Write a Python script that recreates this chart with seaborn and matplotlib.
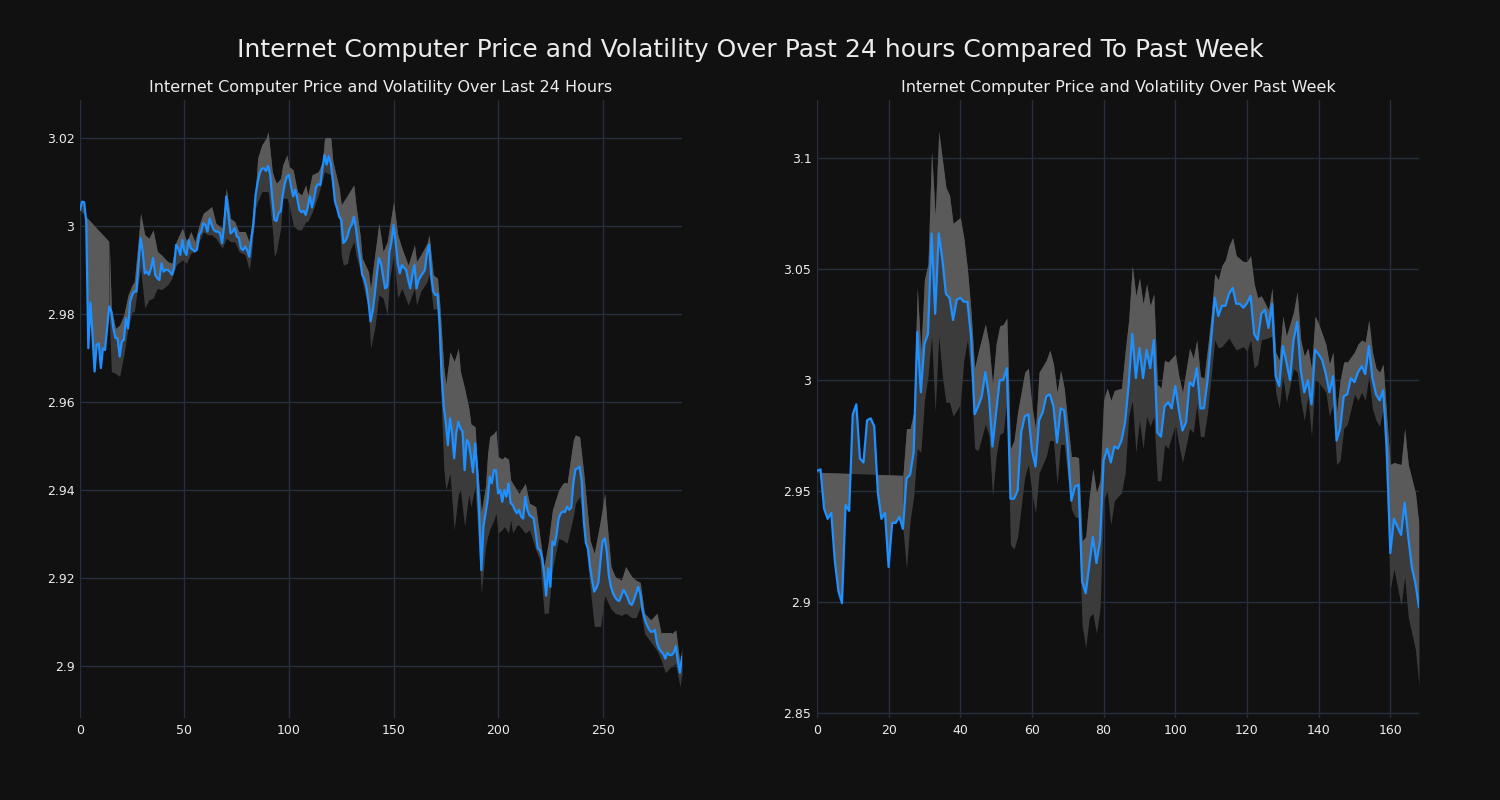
"""
Internet Computer price & volatility: last 24 hours vs past week.
Two panels, price line over a shaded volatility band.
"""

import matplotlib
matplotlib.use("Agg")

import matplotlib.pyplot as plt
import numpy as np
import seaborn as sns
from matplotlib.patches import Polygon
from matplotlib.ticker import FuncFormatter, MultipleLocator

# ── Data: last 24 hours (5-minute steps) ─────────────────────────────

PRICE_24H = [
    3.0036, 3.0055, 3.0054, 3.0010, 2.9722, 2.9826, 2.9752, 2.9669, 2.9730, 2.9733,
    2.9677, 2.9722, 2.9718, 2.9767, 2.9817, 2.9805, 2.9767, 2.9745, 2.9745, 2.9703,
    2.9737, 2.9741, 2.9790, 2.9767, 2.9828, 2.9843, 2.9851, 2.9851, 2.9911, 2.9972,
    2.9942, 2.9892, 2.9896, 2.9889, 2.9904, 2.9927, 2.9889, 2.9881, 2.9877, 2.9915,
    2.9896, 2.9900, 2.9900, 2.9896, 2.9889, 2.9904, 2.9957, 2.9949, 2.9934, 2.9968,
    2.9942, 2.9934, 2.9968, 2.9949, 2.9946, 2.9942, 2.9946, 2.9980, 2.9987, 3.0006,
    3.0002, 2.9987, 3.0017, 3.0002, 2.9991, 2.9987, 2.9987, 2.9983, 2.9961, 3.0002,
    3.0067, 3.0025, 2.9983, 2.9987, 2.9995, 2.9976, 2.9973, 2.9949, 2.9945, 2.9953,
    2.9945, 2.9930, 2.9972, 3.0006, 3.0070, 3.0099, 3.0120, 3.0130, 3.0131, 3.0125,
    3.0136, 3.0116, 3.0063, 3.0014, 3.0011, 3.0029, 3.0033, 3.0070, 3.0097, 3.0112,
    3.0116, 3.0089, 3.0067, 3.0082, 3.0061, 3.0036, 3.0031, 3.0034, 3.0025, 3.0044,
    3.0067, 3.0042, 3.0063, 3.0089, 3.0095, 3.0093, 3.0131, 3.0161, 3.0139, 3.0158,
    3.0142, 3.0101, 3.0055, 3.0040, 3.0021, 3.0014, 2.9961, 2.9966, 2.9976, 2.9995,
    3.0002, 3.0021, 2.9995, 2.9957, 2.9927, 2.9889, 2.9880, 2.9862, 2.9828, 2.9783,
    2.9805, 2.9843, 2.9889, 2.9927, 2.9915, 2.9885, 2.9858, 2.9862, 2.9940, 2.9964,
    3.0002, 2.9964, 2.9915, 2.9892, 2.9911, 2.9905, 2.9900, 2.9877, 2.9858, 2.9889,
    2.9911, 2.9858, 2.9877, 2.9885, 2.9892, 2.9900, 2.9938, 2.9957, 2.9889, 2.9851,
    2.9843, 2.9845, 2.9780, 2.9660, 2.9590, 2.9552, 2.9502, 2.9563, 2.9529, 2.9472,
    2.9529, 2.9555, 2.9540, 2.9533, 2.9445, 2.9514, 2.9506, 2.9476, 2.9440, 2.9506,
    2.9445, 2.9340, 2.9218, 2.9317, 2.9347, 2.9377, 2.9430, 2.9415, 2.9445, 2.9445,
    2.9392, 2.9400, 2.9373, 2.9400, 2.9385, 2.9415, 2.9370, 2.9366, 2.9355, 2.9347,
    2.9355, 2.9340, 2.9335, 2.9385, 2.9355, 2.9343, 2.9339, 2.9335, 2.9302, 2.9267,
    2.9264, 2.9248, 2.9211, 2.9160, 2.9222, 2.9180, 2.9283, 2.9275, 2.9300, 2.9336,
    2.9347, 2.9351, 2.9350, 2.9362, 2.9355, 2.9360, 2.9415, 2.9447, 2.9449, 2.9453,
    2.9420, 2.9330, 2.9280, 2.9267, 2.9225, 2.9195, 2.9169, 2.9177, 2.9190, 2.9241,
    2.9283, 2.9290, 2.9260, 2.9205, 2.9180, 2.9165, 2.9156, 2.9150, 2.9148, 2.9160,
    2.9173, 2.9165, 2.9155, 2.9142, 2.9139, 2.9150, 2.9165, 2.9180, 2.9165, 2.9130,
    2.9110, 2.9095, 2.9085, 2.9078, 2.9078, 2.9082, 2.9052, 2.9040, 2.9033, 2.9028,
    2.9017, 2.9030, 2.9025, 2.9025, 2.9030, 2.9045, 2.9010, 2.8985, 2.9021,
]

BAND_24H_X = [
    14, 15, 17, 19, 21, 23, 25, 26, 28, 29, 31, 33, 35, 37, 39, 42, 44, 46, 49, 51,
    53, 55, 57, 59, 61, 63, 65, 68, 70, 72, 74, 76, 79, 81, 82, 84, 85, 87, 89, 90,
    92, 93, 94, 96, 97, 99, 100, 102, 104, 106, 108, 109, 111, 114, 116, 117, 120, 121, 124, 125,
    126, 128, 129, 131, 132, 134, 135, 138, 139, 141, 143, 145, 147, 148, 150, 152, 154, 157, 160, 161,
    163, 166, 167, 169, 171, 172, 174, 175, 177, 179, 181, 182, 184, 186, 187, 189, 190, 192, 194, 195,
    196, 198, 199, 200, 202, 203, 205, 206, 207, 209, 210, 213, 215, 218, 220, 222, 224, 226, 229, 231,
    233, 236, 237, 239, 241, 244, 246, 249, 251, 252, 254, 256, 259, 261, 264, 266, 268, 270, 273, 276,
    278, 280, 283, 285, 287, 288,
]
BAND_24H_HI = [
    2.9964, 2.9813, 2.9767, 2.9775, 2.9798, 2.9843, 2.9866, 2.9873, 2.9972, 3.0029,
    2.9980, 2.9972, 2.9991, 2.9942, 2.9934, 2.9919, 2.9915, 2.9964, 2.9995, 2.9964,
    2.9987, 2.9964, 3.0002, 3.0029, 3.0036, 3.0044, 3.0006, 2.9995, 3.0086, 3.0017,
    3.0010, 2.9987, 2.9987, 2.9964, 2.9998, 3.0085, 3.0154, 3.0184, 3.0199, 3.0214,
    3.0123, 3.0108, 3.0097, 3.0108, 3.0139, 3.0161, 3.0135, 3.0127, 3.0078, 3.0070,
    3.0093, 3.0070, 3.0116, 3.0123, 3.0146, 3.0199, 3.0199, 3.0146, 3.0086, 3.0048,
    3.0055, 3.0070, 3.0078, 3.0093, 3.0048, 2.9980, 2.9927, 2.9896, 2.9858, 2.9934,
    3.0006, 2.9942, 2.9964, 2.9995, 3.0055, 2.9980, 2.9949, 2.9911, 2.9957, 2.9919,
    2.9934, 2.9960, 2.9980, 2.9889, 2.9881, 2.9830, 2.9680, 2.9640, 2.9714, 2.9692,
    2.9722, 2.9669, 2.9631, 2.9586, 2.9550, 2.9544, 2.9460, 2.9350, 2.9410, 2.9483,
    2.9521, 2.9529, 2.9536, 2.9476, 2.9470, 2.9476, 2.9470, 2.9423, 2.9415, 2.9400,
    2.9392, 2.9415, 2.9370, 2.9362, 2.9294, 2.9226, 2.9280, 2.9355, 2.9400, 2.9415,
    2.9415, 2.9514, 2.9525, 2.9521, 2.9438, 2.9286, 2.9256, 2.9332, 2.9392, 2.9332,
    2.9226, 2.9203, 2.9195, 2.9226, 2.9203, 2.9195, 2.9190, 2.9120, 2.9105, 2.9120,
    2.9074, 2.9074, 2.9074, 2.9082, 2.9006, 2.9044,
]
BAND_24H_LO = [
    2.9800, 2.9669, 2.9665, 2.9658, 2.9707, 2.9767, 2.9805, 2.9805, 2.9873, 2.9904,
    2.9813, 2.9832, 2.9836, 2.9858, 2.9855, 2.9866, 2.9881, 2.9911, 2.9923, 2.9915,
    2.9938, 2.9942, 2.9964, 2.9987, 2.9980, 2.9980, 2.9972, 2.9949, 2.9972, 2.9964,
    2.9964, 2.9942, 2.9934, 2.9900, 2.9934, 3.0040, 3.0055, 3.0078, 3.0078, 3.0078,
    2.9995, 2.9930, 2.9942, 2.9995, 3.0063, 3.0063, 3.0048, 3.0002, 2.9991, 2.9991,
    3.0010, 3.0010, 3.0030, 3.0070, 3.0105, 3.0123, 3.0116, 3.0078, 3.0014, 2.9934,
    2.9911, 2.9915, 2.9942, 2.9964, 2.9934, 2.9900, 2.9873, 2.9813, 2.9722, 2.9767,
    2.9843, 2.9836, 2.9798, 2.9873, 2.9934, 2.9836, 2.9858, 2.9820, 2.9858, 2.9820,
    2.9851, 2.9873, 2.9889, 2.9810, 2.9813, 2.9700, 2.9450, 2.9400, 2.9438, 2.9309,
    2.9390, 2.9400, 2.9317, 2.9390, 2.9362, 2.9408, 2.9332, 2.9165, 2.9271, 2.9294,
    2.9310, 2.9332, 2.9347, 2.9302, 2.9310, 2.9317, 2.9302, 2.9332, 2.9302, 2.9320,
    2.9320, 2.9302, 2.9310, 2.9264, 2.9241, 2.9120, 2.9120, 2.9220, 2.9290, 2.9286,
    2.9279, 2.9340, 2.9370, 2.9385, 2.9320, 2.9180, 2.9090, 2.9090, 2.9160, 2.9150,
    2.9130, 2.9120, 2.9115, 2.9120, 2.9110, 2.9110, 2.9135, 2.9074, 2.9055, 2.9035,
    2.9014, 2.8985, 2.9000, 2.9005, 2.8953, 2.8983,
]
# the band's straight upper edge before the rolling window fills
WEDGE_24H_X = [14, 0]
WEDGE_24H_Y = [2.9964, 3.0036]

# ── Data: past week (hourly steps) ───────────────────────────────────

PRICE_7D = [
    2.9591, 2.9597, 2.9420, 2.9374, 2.9401, 2.9184, 2.9048, 2.8994, 2.9437, 2.9410,
    2.9845, 2.9890, 2.9646, 2.9628, 2.9818, 2.9827, 2.9791, 2.9492, 2.9374, 2.9401,
    2.9157, 2.9356, 2.9356, 2.9383, 2.9329, 2.9555, 2.9573, 2.9673, 3.0216, 2.9944,
    3.0162, 3.0207, 3.0660, 3.0298, 3.0660, 3.0542, 3.0388, 3.0370, 3.0270, 3.0361,
    3.0370, 3.0352, 3.0352, 3.0198, 2.9845, 2.9881, 2.9926, 3.0035, 2.9926, 2.9700,
    2.9854, 2.9999, 2.9999, 3.0053, 2.9465, 2.9465, 2.9501, 2.9763, 2.9836, 2.9845,
    2.9682, 2.9610, 2.9818, 2.9854, 2.9926, 2.9935, 2.9881, 2.9718, 2.9872, 2.9863,
    2.9691, 2.9456, 2.9519, 2.9528, 2.9093, 2.9039, 2.9166, 2.9293, 2.9175, 2.9275,
    2.9637, 2.9691, 2.9628, 2.9700, 2.9691, 2.9727, 2.9809, 2.9981, 3.0207, 3.0008,
    3.0144, 3.0008, 3.0135, 3.0053, 3.0180, 2.9763, 2.9745, 2.9881, 2.9899, 2.9872,
    2.9972, 2.9863, 2.9772, 2.9809, 2.9990, 2.9972, 3.0053, 2.9872, 2.9872, 2.9999,
    3.0180, 3.0370, 3.0288, 3.0334, 3.0334, 3.0388, 3.0415, 3.0343, 3.0343, 3.0325,
    3.0346, 3.0379, 3.0207, 3.0180, 3.0298, 3.0316, 3.0234, 3.0343, 3.0017, 2.9972,
    3.0153, 3.0080, 2.9999, 3.0180, 3.0261, 3.0044, 2.9944, 2.9999, 2.9890, 3.0135,
    3.0116, 3.0089, 3.0026, 2.9944, 3.0017, 2.9727, 2.9782, 2.9926, 2.9935, 3.0008,
    2.9990, 3.0035, 3.0062, 3.0026, 3.0153, 3.0008, 2.9935, 2.9908, 2.9953, 2.9691,
    2.9220, 2.9374, 2.9338, 2.9302, 2.9447, 2.9293, 2.9157, 2.9084, 2.8976,
]

BAND_7D_X = [
    24, 25, 26, 27, 28, 29, 30, 31, 32, 33, 34, 35, 36, 37, 38, 40, 41, 42, 43, 44,
    45, 47, 48, 49, 50, 51, 52, 53, 54, 55, 56, 58, 59, 60, 61, 62, 64, 65, 66, 67,
    68, 69, 71, 72, 73, 74, 75, 76, 77, 78, 79, 80, 81, 82, 83, 85, 86, 87, 88, 89,
    90, 91, 92, 93, 94, 95, 96, 97, 98, 100, 101, 102, 104, 105, 106, 107, 108, 109, 110, 111,
    112, 113, 114, 115, 116, 117, 119, 120, 121, 122, 123, 124, 126, 127, 128, 129, 130, 131, 133, 134,
    135, 136, 137, 138, 139, 140, 142, 143, 144, 145, 146, 147, 148, 150, 151, 152, 153, 154, 155, 156,
    157, 158, 159, 160, 161, 163, 164, 165, 167, 168,
]
BAND_7D_HI = [
    2.9568, 2.9781, 2.9781, 2.9854, 3.0415, 3.0126, 3.0451, 3.0524, 3.1030, 3.0741,
    3.1120, 3.0995, 3.0868, 3.0832, 3.0705, 3.0732, 3.0640, 3.0500, 3.0307, 3.0053,
    3.0126, 3.0252, 3.0162, 2.9981, 3.0162, 3.0243, 3.0250, 3.0279, 2.9691, 2.9727,
    2.9854, 3.0035, 3.0053, 2.9880, 2.9781, 3.0035, 3.0089, 3.0135, 3.0071, 2.9944,
    3.0044, 2.9963, 2.9655, 2.9655, 2.9650, 2.9275, 2.9293, 2.9474, 2.9600, 2.9492,
    2.9546, 2.9908, 2.9963, 2.9908, 2.9953, 2.9963, 3.0126, 3.0270, 3.0515, 3.0379,
    3.0460, 3.0343, 3.0433, 3.0334, 3.0388, 2.9981, 2.9963, 3.0089, 3.0080, 3.0116,
    3.0017, 2.9944, 3.0144, 3.0098, 3.0180, 3.0017, 3.0008, 3.0144, 3.0288, 3.0479,
    3.0451, 3.0515, 3.0542, 3.0605, 3.0641, 3.0560, 3.0533, 3.0533, 3.0560, 3.0433,
    3.0370, 3.0379, 3.0316, 3.0415, 3.0126, 3.0089, 3.0288, 3.0198, 3.0307, 3.0397,
    3.0180, 3.0107, 3.0144, 3.0053, 3.0288, 3.0252, 3.0162, 3.0071, 3.0126, 2.9854,
    2.9999, 3.0080, 3.0080, 3.0126, 3.0162, 3.0180, 3.0171, 3.0270, 3.0126, 3.0053,
    3.0035, 3.0071, 2.9836, 2.9619, 2.9628, 2.9619, 2.9782, 2.9619, 2.9492, 2.9347,
]
BAND_7D_LO = [
    2.9329, 2.9150, 2.9365, 2.9474, 2.9691, 2.9673, 2.9908, 3.0017, 3.0198, 2.9854,
    3.0198, 3.0017, 2.9899, 2.9899, 2.9836, 2.9890, 3.0090, 3.0180, 3.0017, 2.9691,
    2.9682, 2.9800, 2.9750, 2.9474, 2.9655, 2.9754, 2.9763, 2.9908, 2.9257, 2.9238,
    2.9293, 2.9564, 2.9619, 2.9492, 2.9401, 2.9582, 2.9655, 2.9727, 2.9727, 2.9528,
    2.9709, 2.9709, 2.9420, 2.9383, 2.9380, 2.8894, 2.8795, 2.8931, 2.8949, 2.8858,
    2.8967, 2.9456, 2.9501, 2.9347, 2.9456, 2.9492, 2.9582, 2.9836, 2.9908, 2.9673,
    2.9818, 2.9691, 2.9836, 2.9791, 2.9836, 2.9546, 2.9546, 2.9709, 2.9691, 2.9800,
    2.9709, 2.9628, 2.9781, 2.9763, 2.9890, 2.9745, 2.9745, 2.9854, 3.0017, 3.0180,
    3.0144, 3.0150, 3.0170, 3.0189, 3.0160, 3.0135, 3.0150, 3.0130, 3.0180, 3.0053,
    3.0071, 3.0180, 3.0190, 3.0198, 2.9944, 2.9872, 3.0017, 2.9900, 3.0050, 3.0035,
    2.9908, 2.9818, 2.9926, 2.9745, 2.9999, 2.9990, 2.9944, 2.9836, 2.9890, 2.9619,
    2.9637, 2.9782, 2.9800, 2.9935, 2.9908, 2.9944, 2.9908, 3.0017, 2.9872, 2.9818,
    2.9791, 2.9872, 2.9474, 2.9057, 2.9148, 2.8985, 2.9112, 2.8931, 2.8786, 2.8623,
]
WEDGE_7D_X = [24, 0]
WEDGE_7D_Y = [2.9568, 2.9582]

SUPTITLE = "Internet Computer Price and Volatility Over Past 24 hours Compared To Past Week"
TITLE_24H = "Internet Computer Price and Volatility Over Last 24 Hours"
TITLE_7D = "Internet Computer Price and Volatility Over Past Week"

# ── Theme ────────────────────────────────────────────────────────────

BG = "#111111"
GRID = "#262f3c"
LINE = "#1e90ff"
BAND_DARK = "#3b3b3b"
BAND_LIGHT = "#5a5a5a"
TEXT = "#ececec"

sns.set_theme(style="darkgrid")
plt.rcParams.update({
    "font.family": ["DejaVu Sans"],
    "figure.facecolor": BG,
    "axes.facecolor": BG,
    "savefig.facecolor": BG,
    "text.color": TEXT,
})


def draw_panel(ax, price, band_x, band_hi, band_lo, wedge_x, wedge_y,
               title, ylim, xstep, ystep):
    x = np.arange(len(price))
    price = np.asarray(price)
    n = wedge_x[0] + 1
    wx = np.concatenate([x[:n], wedge_x])
    wy = np.concatenate([price[:n], wedge_y])

    # dark band everywhere, lighter copy clipped to the part above the price line
    for color, clipped in ((BAND_DARK, False), (BAND_LIGHT, True)):
        arts = [
            ax.fill(wx, wy, color=color, lw=0, zorder=1)[0],
            ax.fill_between(band_x, band_lo, band_hi, color=color, lw=0, zorder=1),
        ]
        if clipped:
            clip = Polygon(
                np.column_stack([np.r_[x[0], x, x[-1]], np.r_[10, price, 10]]),
                closed=True, transform=ax.transData,
            )
            for art in arts:
                art.set_clip_path(clip)

    sns.lineplot(x=x, y=price, ax=ax, color=LINE, linewidth=1.6, zorder=3)

    ax.set_xlim(0, len(price) - 1)
    ax.set_ylim(*ylim)
    ax.xaxis.set_major_locator(MultipleLocator(xstep))
    ax.yaxis.set_major_locator(MultipleLocator(ystep))
    ax.yaxis.set_major_formatter(FuncFormatter(lambda v, _: f"{v:g}"))
    ax.set_xlabel("")
    ax.set_ylabel("")
    ax.grid(True, color=GRID, linewidth=1)
    ax.set_axisbelow(True)
    for side in ax.spines.values():
        side.set_visible(False)
    ax.tick_params(length=0, colors=TEXT, labelsize=9, pad=4)
    ax.set_title(title, color=TEXT, fontsize=11.5, pad=6)


fig, (ax_day, ax_week) = plt.subplots(1, 2, figsize=(15, 8), dpi=100)
fig.subplots_adjust(left=0.0533, right=0.946, top=0.875, bottom=0.1025, wspace=0.224)

draw_panel(ax_day, PRICE_24H, BAND_24H_X, BAND_24H_HI, BAND_24H_LO,
           WEDGE_24H_X, WEDGE_24H_Y, TITLE_24H, (2.8882, 3.0286), 50, 0.02)
draw_panel(ax_week, PRICE_7D, BAND_7D_X, BAND_7D_HI, BAND_7D_LO,
           WEDGE_7D_X, WEDGE_7D_Y, TITLE_7D, (2.8477, 3.1261), 20, 0.05)

fig.suptitle(SUPTITLE, fontsize=18, color=TEXT, y=0.9375, va="center")

fig.savefig("out.png", dpi=100, facecolor=BG)
plt.close(fig)
